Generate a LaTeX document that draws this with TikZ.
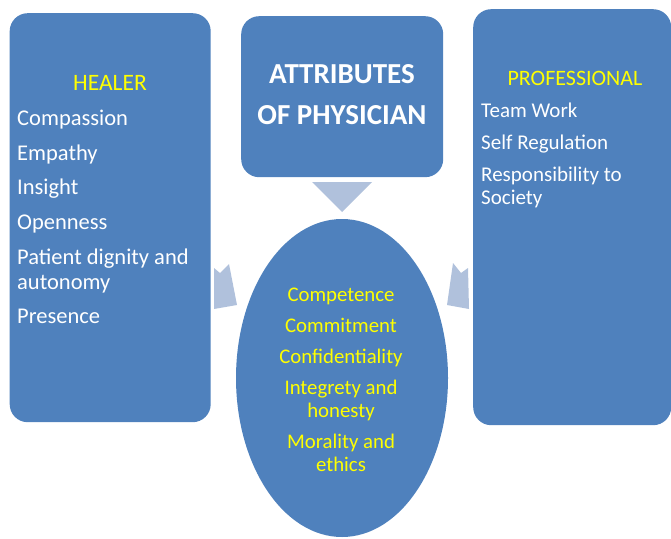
\documentclass[tikz,border=0pt]{standalone}
\usepackage{fontspec}
\setmainfont{Carlito}
\usetikzlibrary{shapes.geometric}

\definecolor{boxblue}{HTML}{4F81BD}
\definecolor{arrowblue}{HTML}{B0C1DC}
\definecolor{headyellow}{HTML}{FFFF00}

\tikzset{
    box/.style={fill=boxblue, rounded corners=18pt, inner sep=0pt, anchor=north west},
    head/.style={text=headyellow},
    listtext/.style={text=white, align=left, inner sep=0pt, anchor=north west},
    shaft/.style={fill=arrowblue}
}

\begin{document}
\begin{tikzpicture}[x=1pt, y=-1pt]
    \useasboundingbox (0,0) rectangle (671,538);

    % tres caixas
    \node[box, minimum width=201pt, minimum height=409pt] (healer) at (9.5,13) {};
    \node[box, minimum width=202pt, minimum height=161pt] (title) at (241,16) {};
    \node[box, minimum width=198pt, minimum height=416pt] (professional) at (473,9) {};

    % setas
    \fill[shaft] (312,182) -- (372,182) -- (342,212) -- cycle;
    \fill[shaft] (214,268) -- (220,273) -- (229,264) -- (237,305) -- (214,309) -- cycle;
    \fill[shaft] (453,263) -- (461,273) -- (468,268) -- (469,309) -- (447,305) -- cycle;

    % elipse central
    \node[ellipse, fill=boxblue, minimum width=212pt, minimum height=318pt, inner sep=0pt] (core) at (342,378) {};

    % titulo
    \node[text=white, align=center, font=\fontsize{29}{41}\selectfont\bfseries] (titletext) at (342,95) {ATTRIBUTES\\OF PHYSICIAN};

    % HEALER
    \node[head, font=\fontsize{23.5}{26}\selectfont] (healerhead) at (110,83) {HEALER};
    \node[listtext, font=\fontsize{22.5}{25}\selectfont] (healerlist) at (17,110)
        {Compassion\\[9.6pt] Empathy\\[9.6pt] Insight\\[9.6pt] Openness\\[9.6pt]
         Patient dignity and\\ autonomy\\[9.6pt] Presence};

    % PROFESSIONAL
    \node[head, font=\fontsize{22}{26}\selectfont] (profhead) at (575,78) {PROFESSIONAL};
    \node[listtext, font=\fontsize{21}{23}\selectfont] (proflist) at (481,103)
        {Team Work\\[9pt] Self Regulation\\[9pt] Responsibility to\\ Society};

    % qualidades no centro
    \node[text=headyellow, align=center, inner sep=0pt, font=\fontsize{20.8}{23}\selectfont] (corelist) at (341,380)
        {Competence\\[8pt] Commitment\\[8pt] Confidentiality\\[8pt] Integrety and\\ honesty\\[8pt] Morality and\\ ethics};
\end{tikzpicture}
\end{document}
